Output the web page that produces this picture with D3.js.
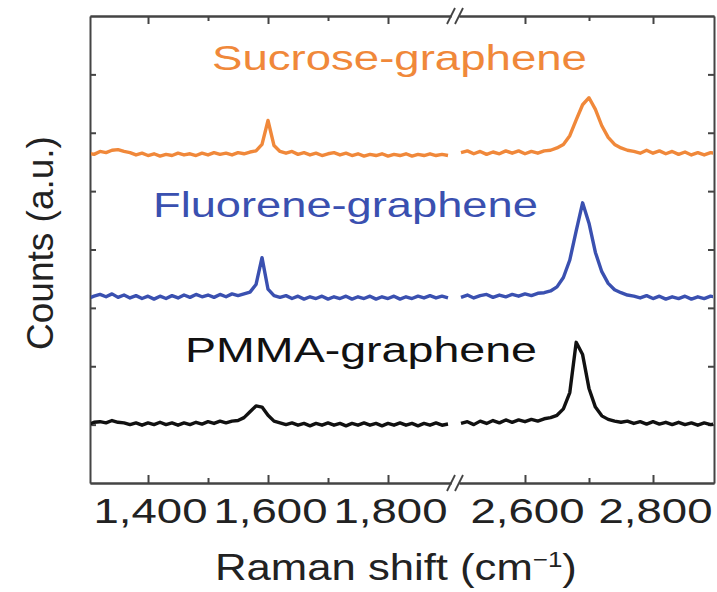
<!DOCTYPE html>
<html>
<head>
<meta charset="utf-8">
<script src="https://cdn.jsdelivr.net/npm/d3@7"></script>
<style>
  body { margin: 0; background: #fff; }
  text { font-family: "Liberation Sans", Arial, sans-serif; }
</style>
</head>
<body>
<script>
// Raman shift grids (cm-1) for the two halves of the broken axis
var shiftLeft = [1300, 1310, 1320, 1330, 1340, 1350, 1360, 1370, 1380, 1390,
    1400, 1410, 1420, 1430, 1440, 1450, 1460, 1470, 1480, 1490,
    1500, 1510, 1520, 1530, 1540, 1550, 1560, 1570, 1580, 1590,
    1600, 1610, 1620, 1630, 1640, 1650, 1660, 1670, 1680, 1690,
    1700, 1710, 1720, 1730, 1740, 1750, 1760, 1770, 1780, 1790,
    1800, 1810, 1820, 1830, 1840, 1850, 1860, 1870, 1880, 1890, 1900];
var shiftRight = [2500, 2510, 2520, 2530, 2540, 2550, 2560, 2570, 2580, 2590,
    2600, 2610, 2620, 2630, 2640, 2650, 2660, 2670, 2680, 2690,
    2700, 2710, 2720, 2730, 2740, 2750, 2760, 2770, 2780, 2790,
    2800, 2810, 2820, 2830, 2840, 2850, 2860, 2870, 2880, 2890, 2900];

// Counts (a.u., offset spectra)
var sucroseLeft = [5.65, 5.63, 5.68, 5.66, 5.70, 5.71, 5.68, 5.66, 5.62, 5.65,
    5.61, 5.64, 5.60, 5.63, 5.61, 5.65, 5.62, 5.64, 5.61, 5.65,
    5.62, 5.66, 5.63, 5.65, 5.62, 5.66, 5.64, 5.67, 5.69, 5.80,
    6.21, 5.78, 5.68, 5.65, 5.68, 5.63, 5.66, 5.62, 5.65, 5.61,
    5.64, 5.66, 5.62, 5.65, 5.61, 5.64, 5.60, 5.63, 5.61, 5.64,
    5.60, 5.63, 5.61, 5.64, 5.60, 5.63, 5.61, 5.64, 5.61, 5.63, 5.61];
var sucroseRight = [5.66, 5.69, 5.64, 5.68, 5.63, 5.67, 5.64, 5.69, 5.65, 5.69,
    5.64, 5.68, 5.65, 5.69, 5.70, 5.74, 5.80, 5.95, 6.22, 6.48,
    6.60, 6.40, 6.12, 5.92, 5.80, 5.74, 5.70, 5.68, 5.65, 5.70,
    5.65, 5.69, 5.64, 5.68, 5.63, 5.67, 5.62, 5.66, 5.62, 5.66, 5.64];

var fluoreneLeft = [3.16, 3.20, 3.23, 3.19, 3.24, 3.18, 3.22, 3.17, 3.21, 3.16,
    3.20, 3.15, 3.20, 3.16, 3.21, 3.17, 3.22, 3.18, 3.23, 3.19,
    3.22, 3.18, 3.23, 3.19, 3.24, 3.21, 3.24, 3.27, 3.40, 3.86,
    3.32, 3.21, 3.18, 3.21, 3.16, 3.20, 3.15, 3.19, 3.16, 3.20,
    3.15, 3.19, 3.16, 3.20, 3.15, 3.19, 3.16, 3.20, 3.15, 3.19,
    3.16, 3.20, 3.15, 3.19, 3.16, 3.20, 3.17, 3.21, 3.17, 3.20, 3.17];
var fluoreneRight = [3.18, 3.22, 3.17, 3.21, 3.23, 3.18, 3.22, 3.19, 3.23, 3.20,
    3.24, 3.21, 3.25, 3.26, 3.29, 3.36, 3.52, 3.82, 4.32, 4.80,
    4.45, 3.95, 3.62, 3.42, 3.31, 3.26, 3.22, 3.20, 3.17, 3.21,
    3.16, 3.20, 3.15, 3.19, 3.16, 3.20, 3.15, 3.19, 3.16, 3.20, 3.18];

var pmmaLeft = [1.00, 1.04, 1.05, 1.03, 1.07, 1.04, 1.03, 1.00, 1.03, 0.99,
    1.03, 1.00, 1.04, 1.00, 1.03, 0.99, 1.03, 1.00, 1.04, 1.01,
    1.05, 1.02, 1.06, 1.03, 1.06, 1.07, 1.12, 1.22, 1.32, 1.30,
    1.16, 1.06, 1.03, 1.00, 1.03, 0.99, 1.02, 0.98, 1.02, 0.99,
    1.03, 0.99, 1.02, 0.98, 1.02, 0.99, 1.03, 0.99, 1.02, 0.98,
    1.02, 0.99, 1.03, 0.99, 1.02, 0.98, 1.02, 0.99, 1.03, 0.99, 1.01];
var pmmaRight = [1.02, 1.05, 1.00, 1.06, 1.02, 1.07, 1.03, 1.08, 1.04, 1.08,
    1.05, 1.09, 1.06, 1.10, 1.12, 1.16, 1.27, 1.55, 2.41, 2.20,
    1.62, 1.30, 1.15, 1.09, 1.06, 1.04, 1.06, 1.02, 1.05, 1.01,
    1.05, 1.01, 1.04, 1.00, 1.04, 1.00, 1.03, 0.99, 1.03, 1.00, 1.02];

var seriesNames = ["Sucrose-graphene", "Fluorene-graphene", "PMMA-graphene"];
var seriesColors = ["#f0883a", "#3a50b0", "#111111"];

var majorLeft = [1400, 1600, 1800], minorLeft = [1500, 1700];
var majorRight = [2600, 2800], minorRight = [2700];
var yTicks = [1, 2, 3, 4, 5, 6, 7];

var svg = d3.select("body").append("svg")
    .attr("width", 717)
    .attr("height", 592);

var frame = { left: 90, right: 714, top: 16, bottom: 483, breakL: 451, breakR: 459 };

var xLeft = d3.scaleLinear().domain([1303.3, 1905]).range([frame.left, frame.breakL]);
var xRight = d3.scaleLinear().domain([2496.9, 2895.3]).range([frame.breakR, frame.right]);
var y = d3.scaleLinear().domain([0, 8]).range([frame.bottom, frame.top]);

var axisColor = "#444";

// horizontal stretch factor so a text node gets a given width
function stretchTo(sel, width) {
    var w = sel.node().getComputedTextLength();
    return width / w;
}

// x axes (bottom and top), two segments each
[[xLeft, majorLeft, minorLeft], [xRight, majorRight, minorRight]].forEach(function(seg) {
    var sc = seg[0];
    var bottom = svg.append("g")
        .attr("transform", `translate(0,${frame.bottom})`)
        .call(d3.axisBottom(sc).tickValues(seg[1]).tickSizeInner(-8).tickSizeOuter(0)
            .tickFormat(d3.format(",")));
    bottom.selectAll("text")
        .attr("y", 40).attr("dy", 0)
        .style("font-size", "36px")
        .attr("fill", "#222")
        .each(function() {
            var t = d3.select(this);
            t.attr("transform", `translate(2,0) scale(${stretchTo(t, 114)},1)`);
        });
    svg.append("g")
        .attr("transform", `translate(0,${frame.bottom})`)
        .call(d3.axisBottom(sc).tickValues(seg[2]).tickSizeInner(-5).tickSizeOuter(0).tickFormat(""));
    svg.append("g")
        .attr("transform", `translate(0,${frame.top})`)
        .call(d3.axisTop(sc).tickValues(seg[1]).tickSizeInner(-8).tickSizeOuter(0).tickFormat(""));
    svg.append("g")
        .attr("transform", `translate(0,${frame.top})`)
        .call(d3.axisTop(sc).tickValues(seg[2]).tickSizeInner(-5).tickSizeOuter(0).tickFormat(""));
});

// y axes (left and right)
svg.append("g")
    .attr("transform", `translate(${frame.left},0)`)
    .call(d3.axisLeft(y).tickValues(yTicks).tickSizeInner(-6).tickSizeOuter(0).tickFormat(""));
svg.append("g")
    .attr("transform", `translate(${frame.right},0)`)
    .call(d3.axisRight(y).tickValues(yTicks).tickSizeInner(-6).tickSizeOuter(0).tickFormat(""));

svg.selectAll(".domain, .tick line")
    .attr("stroke", axisColor)
    .attr("stroke-width", 2);

// break marks //
[frame.top, frame.bottom].forEach(function(yy) {
    [frame.breakL, frame.breakR].forEach(function(bx) {
        svg.append("line")
            .attr("x1", bx - 4).attr("y1", yy + 8)
            .attr("x2", bx + 4).attr("y2", yy - 8)
            .attr("stroke", axisColor)
            .attr("stroke-width", 1.8);
    });
});

// spectra
svg.append("clipPath").attr("id", "plotClip")
    .append("rect")
    .attr("x", frame.left + 1).attr("y", frame.top)
    .attr("width", frame.right - frame.left - 2)
    .attr("height", frame.bottom - frame.top);

var plot = svg.append("g").attr("clip-path", "url(#plotClip)");

var spectra = [
    [sucroseLeft, sucroseRight],
    [fluoreneLeft, fluoreneRight],
    [pmmaLeft, pmmaRight]
];

spectra.forEach(function(s, i) {
    var left = shiftLeft.map((w, j) => [w, s[0][j]]);
    var right = shiftRight.map((w, j) => [w, s[1][j]]);
    [[left, xLeft], [right, xRight]].forEach(function(part) {
        var line = d3.line()
            .x(d => part[1](d[0]))
            .y(d => y(d[1]));
        plot.append("path")
            .datum(part[0])
            .attr("fill", "none")
            .attr("stroke", seriesColors[i])
            .attr("stroke-width", 3.4)
            .attr("stroke-linejoin", "round")
            .attr("d", line);
    });
});

// series labels
var labelPos = [[212, 70, 375], [153, 217, 385], [185, 362, 352]];
seriesNames.forEach(function(name, i) {
    var t = svg.append("text")
        .attr("fill", seriesColors[i])
        .style("font-size", "35px")
        .text(name);
    var k = stretchTo(t, labelPos[i][2]);
    t.attr("transform", `translate(${labelPos[i][0]},${labelPos[i][1]}) scale(${k},1)`);
});

// axis titles
var xTitle = svg.append("text")
    .attr("text-anchor", "middle")
    .attr("fill", "#222")
    .style("font-size", "37px");
xTitle.append("tspan").text("Raman shift (cm");
xTitle.append("tspan").attr("dy", -13).style("font-size", "22px").text("\u22121");
xTitle.append("tspan").attr("dy", 13).text(")");
var kx = 362 / xTitle.node().getBBox().width;
xTitle.attr("transform", `translate(396,580) scale(${kx},1)`);

svg.append("text")
    .attr("text-anchor", "middle")
    .attr("fill", "#222")
    .style("font-size", "37px")
    .attr("transform", "translate(53,243) rotate(-90)")
    .text("Counts (a.u.)");
</script>
</body>
</html>
